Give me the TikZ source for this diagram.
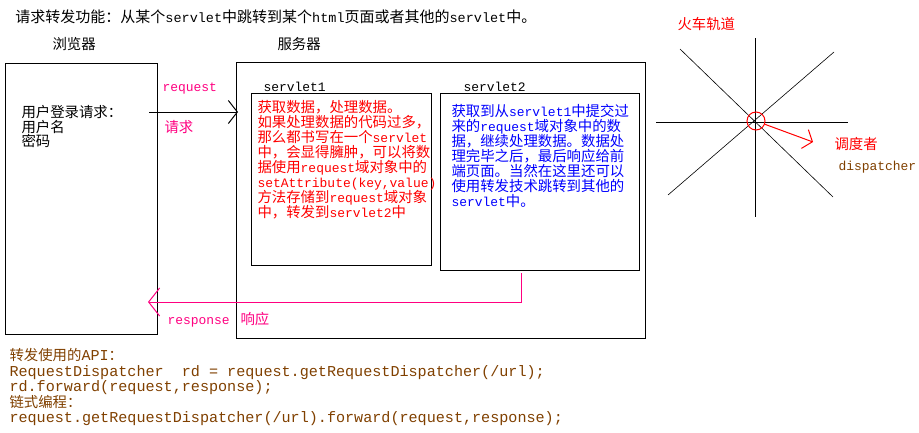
\documentclass[tikz,border=0pt]{standalone}
\usepackage{fontspec}
\setmainfont{Noto Sans CJK SC}
\newfontfamily\mono{Liberation Mono}[Scale=0.9]
\newfontfamily\codemono{Liberation Mono}[Scale=1.05]
\usetikzlibrary{arrows.meta}
\definecolor{pinkred}{RGB}{255,0,128}
\definecolor{codebrown}{RGB}{128,64,0}
\newcommand{\m}[1]{{\mono #1}}
\newcommand{\cm}[1]{{\codemono #1}}

\begin{document}
\begin{tikzpicture}[x=1pt,y=-1pt,line width=1pt,
    font=\fontsize{14.4}{15}\selectfont,
    box/.style={draw,anchor=north west,inner sep=0pt},
    txt/.style={anchor=north west,inner sep=0pt,align=left},
    lbl/.style={anchor=base west,inner sep=0pt}]
  \useasboundingbox (0,0) rectangle (919,432);
  % titles
  \node[lbl,font=\fontsize{15}{15}\selectfont] (title) at (15,22.5) {请求转发功能：从某个\m{servlet}中跳转到某个\m{html}页面或者其他的\m{servlet}中。};
  \node[lbl] (brtitle) at (52,49.5) {浏览器};
  \node[lbl] (svtitle) at (277,49.5) {服务器};
  % boxes
  \node[box,minimum width=152pt,minimum height=271pt] (browser) at (5,63) {};
  \node[box,minimum width=409pt,minimum height=276pt] (server) at (236,62) {};
  \node[box,minimum width=180pt,minimum height=172pt] (s1) at (251,93) {};
  \node[box,minimum width=199pt,minimum height=177pt] (s2) at (440,93) {};
  \node[lbl] (s1name) at (263,91) {\m{servlet1}};
  \node[lbl] (s2name) at (463,91) {\m{servlet2}};
  % texts
  \node[txt,font=\fontsize{14.4}{14.5}\selectfont] (login) at (21,105) {用户登录请求：\\用户名\\密码};
  \node[txt,text=red] (s1text) at (257,100) {获取数据，处理数据。\\如果处理数据的代码过多，\\那么都书写在一个\m{servlet}\\中，会显得臃肿，可以将数\\据使用\m{request}域对象中的\\\m{setAttribute(key,value)}\\方法存储到\m{request}域对象\\中，转发到\m{servlet2}中};
  \node[txt,text=blue] (s2text) at (451,104) {获取到从\m{servlet1}中提交过\\来的\m{request}域对象中的数\\据，继续处理数据。数据处\\理完毕之后，最后响应给前\\端页面。当然在这里还可以\\使用转发技术跳转到其他的\\\m{servlet}中。};
  % request / response
  \coordinate (rqstart) at (149,112);
  \coordinate (rqtip) at (238,112);
  \draw[-{Straight Barb[length=9pt,width=23pt]}] (rqstart) -- (rqtip);
  \node[lbl,text=pinkred] (rqname) at (162,91) {\m{request}};
  \node[lbl,text=pinkred] (rqcn) at (164,132.5) {请求};
  \coordinate (rstip) at (148,302);
  \draw[pinkred,-{Straight Barb[length=11pt,width=28pt]}] ([xshift=-18.5pt,yshift=-2pt]s2.south) |- (rstip);
  \node[lbl,text=pinkred] (rsname) at (167,324) {\m{response}};
  \node[lbl,text=pinkred] (rscn) at (240,324.5) {响应};
  % tracks
  \node[lbl,text=red] (track) at (677,29) {火车轨道};
  \draw[line width=0.8pt] (656,122) -- (848,122);
  \draw[line width=0.8pt] (755,38) -- (755,217);
  \draw[line width=0.6pt] (680,49) -- (833,197);
  \draw[line width=0.6pt] (834,52) -- (668,195);
  \node[circle,draw=red,inner sep=0pt,minimum size=18pt] (disp) at (756,121) {};
  \coordinate (dtip) at (813,142);
  \draw[red,-{Straight Barb[length=8pt,width=20pt]}] (disp) -- (dtip);
  \node[lbl,text=red] (dispcn) at (834,149) {调度者};
  \node[lbl,text=codebrown] (dispname) at (838,170) {\m{dispatcher}};
  % API
  \node[txt,text=codebrown,font=\fontsize{14.4}{15.5}\selectfont] (api) at (9,348) {转发使用的\cm{API}：\\\cm{RequestDispatcher\ \ rd = request.getRequestDispatcher(/url);}\\\cm{rd.forward(request,response);}\\链式编程：\\\cm{request.getRequestDispatcher(/url).forward(request,response);}};
\end{tikzpicture}
\end{document}
